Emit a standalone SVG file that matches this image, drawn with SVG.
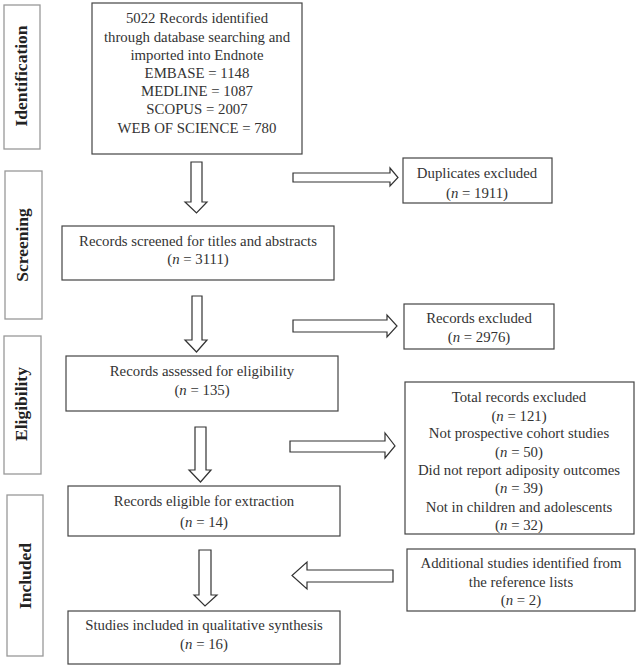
<svg xmlns="http://www.w3.org/2000/svg" width="639" height="668" viewBox="0 0 639 668">
<style>
text{font-family:"Liberation Serif","DejaVu Serif",serif;font-size:14.8px;fill:#333;text-anchor:middle}
.lab{font-weight:bold;font-size:17.5px;fill:#222}
.side{fill:#fff;stroke:#999;stroke-width:1.3}
.box{fill:#fff;stroke:#444;stroke-width:1.2}
.arr{fill:#fff;stroke:#333;stroke-width:1.2}
.i{font-style:italic}
</style>
<rect width="639" height="668" fill="#fff"/>
<g id="stage-identification"><rect class="side" x="4" y="5" width="36" height="144"/><text class="lab" transform="translate(27,76) rotate(-90)">Identification</text></g>
<g id="stage-screening"><rect class="side" x="5" y="171" width="37" height="148"/><text class="lab" transform="translate(28,245) rotate(-90)">Screening</text></g>
<g id="stage-eligibility"><rect class="side" x="4" y="336" width="37" height="138"/><text class="lab" transform="translate(27,404) rotate(-90)">Eligibility</text></g>
<g id="stage-included"><rect class="side" x="7" y="495" width="36" height="161"/><text class="lab" transform="translate(31,576) rotate(-90)">Included</text></g>
<g id="identified"><rect class="box" x="92" y="3" width="210" height="151"/>
<text x="197" y="23">5022 Records identified</text>
<text x="197" y="42">through database searching and</text>
<text x="197" y="60">imported into Endnote</text>
<text x="197" y="78">EMBASE = 1148</text>
<text x="197" y="96">MEDLINE = 1087</text>
<text x="197" y="114">SCOPUS = 2007</text>
<text x="197" y="133">WEB OF SCIENCE = 780</text></g>
<g id="duplicates"><rect class="box" x="403" y="158" width="149" height="45"/>
<text x="477" y="178">Duplicates excluded</text>
<text x="477" y="198">(<tspan class="i">n</tspan> = 1911)</text></g>
<g id="screened"><rect class="box" x="62" y="226" width="272" height="54"/>
<text x="198" y="246">Records screened for titles and abstracts</text>
<text x="198" y="264">(<tspan class="i">n</tspan> = 3111)</text></g>
<g id="excluded"><rect class="box" x="404" y="304" width="150" height="45"/>
<text x="479" y="323">Records excluded</text>
<text x="479" y="342">(<tspan class="i">n</tspan> = 2976)</text></g>
<g id="assessed"><rect class="box" x="66" y="356" width="272" height="55"/>
<text x="202" y="376">Records assessed for eligibility</text>
<text x="202" y="395">(<tspan class="i">n</tspan> = 135)</text></g>
<g id="total-excluded"><rect class="box" x="405" y="382" width="229" height="152"/>
<text x="519" y="402">Total records excluded</text>
<text x="519" y="421">(<tspan class="i">n</tspan> = 121)</text>
<text x="519" y="438">Not prospective cohort studies</text>
<text x="519" y="457">(<tspan class="i">n</tspan> = 50)</text>
<text x="519" y="475">Did not report adiposity outcomes</text>
<text x="519" y="493">(<tspan class="i">n</tspan> = 39)</text>
<text x="519" y="512">Not in children and adolescents</text>
<text x="519" y="530">(<tspan class="i">n</tspan> = 32)</text></g>
<g id="eligible"><rect class="box" x="68" y="486" width="272" height="50"/>
<text x="204" y="506">Records eligible for extraction</text>
<text x="204" y="527">(<tspan class="i">n</tspan> = 14)</text></g>
<g id="additional"><rect class="box" x="407" y="549" width="228" height="62"/>
<text x="521" y="568">Additional studies identified from</text>
<text x="521" y="587">the reference lists</text>
<text x="521" y="605">(<tspan class="i">n</tspan> = 2)</text></g>
<g id="included"><rect class="box" x="68" y="611" width="272" height="53"/>
<text x="204" y="630">Studies included in qualitative synthesis</text>
<text x="204" y="649">(<tspan class="i">n</tspan> = 16)</text></g>
<g id="connectors">
<path class="arr" d="M191,162 H202 V202 H207 L196.5,213 L185,202 H191 Z"/>
<path class="arr" d="M293,173 H390 V168 L398,177.5 L390,186 V182 H293 Z"/>
<path class="arr" d="M192,296 H202 V340 H207 L196.5,352 L185,340 H192 Z"/>
<path class="arr" d="M293,320 H387 V315 L397,326 L387,337 V332 H293 Z"/>
<path class="arr" d="M195,427 H206 V470 H211 L200.5,482 L189,470 H195 Z"/>
<path class="arr" d="M290,441 H385 V433 L395,446 L385,458 V452 H290 Z"/>
<path class="arr" d="M199,550 H211 V595 H217 L205,606 L194,595 H199 Z"/>
<path class="arr" d="M393,570 H307 V562 L292,575.5 L307,589 V582 H393 Z"/>
</g>
</svg>
